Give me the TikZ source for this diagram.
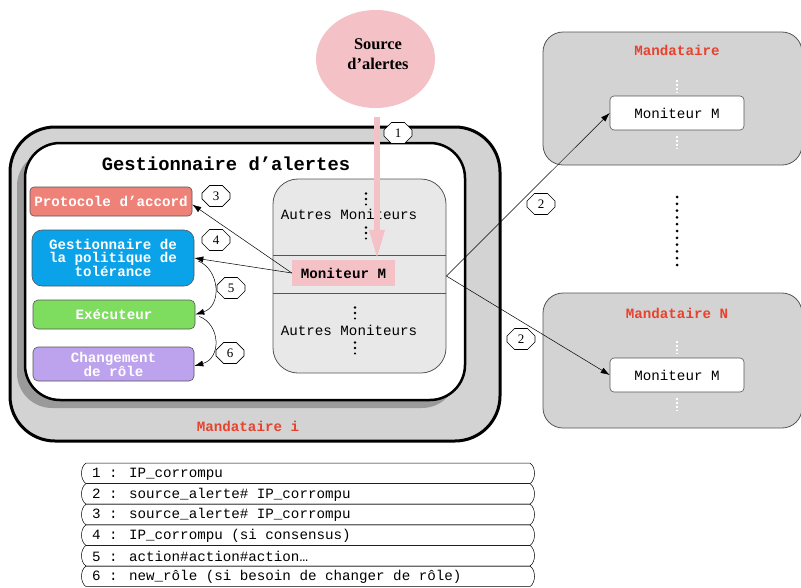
\documentclass[tikz,border=0pt]{standalone}
\usepackage{fontspec}
\setmainfont{Liberation Serif}
\newfontfamily\monof{Liberation Mono}
\usetikzlibrary{shapes.misc,shapes.geometric,arrows.meta,calc}
\definecolor{boxgray}{HTML}{D3D3D3}
\definecolor{shadowgray}{HTML}{9A9A9A}
\definecolor{contgray}{HTML}{E8E8E8}
\definecolor{pinkc}{HTML}{F4C1C6}
\definecolor{protoc}{HTML}{EE8278}
\definecolor{bluec}{HTML}{0AA2E8}
\definecolor{greenc}{HTML}{7EDC5E}
\definecolor{purplec}{HTML}{BDA2EE}
\definecolor{redt}{HTML}{E8412C}
\definecolor{edgegray}{HTML}{555555}
\begin{document}
\begin{tikzpicture}[x=1pt,y=-1pt,
  mono/.style={font=\monof\fontsize{14.2}{13}\selectfont},
  monob/.style={font=\monof\bfseries\fontsize{14.2}{13}\selectfont},
  octa/.style={chamfered rectangle, chamfered rectangle xsep=5pt, chamfered rectangle ysep=5pt,
    draw, fill=white, minimum width=28, minimum height=21, inner sep=0pt, line width=0.6pt,
    font=\fontsize{13}{13}\selectfont},
  colbox/.style={draw=edgegray, line width=0.6pt, rounded corners=5, text=white, monob, align=center, inner sep=0pt},
  conn/.style={-{Latex[length=9pt,width=6pt]}, line width=0.5pt},
  redlab/.style={monob, text=redt},
  mandbox/.style={draw=edgegray, line width=0.8pt, fill=boxgray, rounded corners=20, inner sep=0pt},
  monbox/.style={draw=edgegray, line width=0.6pt, fill=white, rounded corners=4, mono, inner sep=0pt,
    minimum width=134, minimum height=34},
  legline/.style={draw=black, line width=0.5pt}
]
\useasboundingbox (0,0) rectangle (801,587);

% Mandataire i
\node[draw, line width=3pt, rounded corners=45, fill=boxgray, minimum width=490, minimum height=314, inner sep=0pt] (mi) at (255,284) {};
\fill[shadowgray, rounded corners=35] (17,151) rectangle (457,408);
\node[draw, line width=2.5pt, rounded corners=35, fill=white, minimum width=440, minimum height=257, inner sep=0pt] (ga) at (245,271.5) {};
\node[monob, font=\monof\bfseries\fontsize{18.8}{20}\selectfont] (gatitle) at (226,164) {Gestionnaire d’alertes};
\node[redlab] (mitext) at (248,426) {Mandataire i};

% left component boxes
\node[colbox, fill=protoc, rounded corners=4, minimum width=162, minimum height=29] (proto) at (111,201.5) {Protocole d’accord};
\node[colbox, fill=bluec, rounded corners=10, minimum width=162, minimum height=56] (gest) at (113,258) {Gestionnaire de\\la politique de\\tolérance};
\node[colbox, fill=greenc, minimum width=162, minimum height=29] (exec) at (114,314.5) {Exécuteur};
\node[colbox, fill=purplec, minimum width=161, minimum height=34, font=\monof\bfseries\fontsize{14.2}{14}\selectfont] (chg) at (113.5,364) {Changement\\de rôle};

% monitors container
\node[draw=edgegray, line width=0.8pt, fill=contgray, rounded corners=25, minimum width=173, minimum height=194, inner sep=0pt] (cont) at (359.5,276) {};
\draw[edgegray, line width=0.8pt] (273,255) -- (446,255);
\draw[edgegray, line width=0.8pt] (273,293) -- (446,293);
\node[mono] (autres1) at (349,214) {Autres Moniteurs};
\node[mono] (autres2) at (349,330) {Autres Moniteurs};
\foreach \cx/\cy in {366/199, 366/233, 355/313, 355/348}{
  \fill (\cx,\cy-5.5) circle (1.4pt);
  \fill (\cx,\cy) circle (1.4pt);
  \fill (\cx,\cy+5.5) circle (1.2pt);
}
\node[monob, fill=pinkc, minimum width=103, minimum height=26, inner sep=0pt] (mm) at (343.5,273) {Moniteur M};

% internal connectors
\draw[conn] (mm.west) -- ([yshift=-3pt]proto.east);
\draw[conn] (mm.west) -- (gest.east);
\draw[conn] ([xshift=4pt,yshift=-3pt]gest.east) .. controls (220,270) and (222,306) .. (exec.east);
\draw[conn] ([xshift=4pt,yshift=-2pt]exec.east) .. controls (220,324) and (222,358) .. ([yshift=-2pt]chg.east);
\node[octa] (l3) at (216,196) {3};
\node[octa] (l4) at (216,240) {4};
\node[octa] (l5) at (231,288) {5};
\node[octa] (l6) at (230,353) {6};

% right mandataires
\node[mandbox, minimum width=259, minimum height=133] (mtop) at (672.5,98.5) {};
\node[redlab] (mtoptext) at (677,50) {Mandataire};
\node[monbox] (mr1) at (677,113) {Moniteur M};
\draw[white, line width=1.2pt, dash pattern=on 1.5pt off 2.5pt] (677,80) -- (677,93);
\draw[white, line width=1.2pt, dash pattern=on 1.5pt off 2.5pt] (677,136) -- (677,149);

\node[mandbox, minimum width=259, minimum height=135] (mbot) at (672.5,360.5) {};
\node[redlab] (mbottext) at (677,313) {Mandataire N};
\node[monbox] (mr2) at (677,375) {Moniteur M};
\draw[white, line width=1.2pt, dash pattern=on 1.5pt off 2.5pt] (677,341) -- (677,354);
\draw[white, line width=1.2pt, dash pattern=on 1.5pt off 2.5pt] (677,398) -- (677,411);

\draw[line width=3pt, line cap=round, dash pattern=on 0pt off 6.8pt] (677,197) -- (677,265);

\draw[conn] (cont.east) -- (mr1.west);
\draw[conn] (cont.east) -- (mr2.west);
\node[octa] (l2a) at (541,204) {2};
\node[octa] (l2b) at (521,339) {2};

% source of alerts
\node[ellipse, fill=pinkc, minimum width=119, minimum height=98, inner sep=0pt] (src) at (375.5,59) {};
\node[align=center, font=\bfseries\fontsize{16.4}{20}\selectfont] (srctext) at (378,54) {Source\\d’alertes};
\draw[pinkc, line width=6pt, -{Triangle[width=14pt,length=30pt]}] ([xshift=1.5pt,yshift=-9pt]src.south) -- ([xshift=1.5pt]src.south |- mm.north);
\node[octa] (l1) at (398,133) {1};

% legend
\foreach \i/\txt in {0/{1 : IP\_corrompu}, 1/{2 : source\_alerte\# IP\_corrompu}, 2/{3 : source\_alerte\# IP\_corrompu},
  3/{4 : IP\_corrompu (si consensus)}, 4/{5 : action\#action\#action…}, 5/{6 : new\_rôle (si besoin de changer de rôle)}}{
  \pgfmathsetmacro\tp{463+20.6*\i}
  \pgfmathsetmacro\bt{\tp+20.6}
  \draw[legline] (86,\tp) -- (530,\tp) .. controls (536,\tp+4) and (536,\bt-4) .. (530,\bt) -- (86,\bt) .. controls (80,\bt-4) and (80,\tp+4) .. (86,\tp) -- cycle;
  \node[mono, anchor=west, inner sep=0pt] (leg\i) at (92,\tp+10.8) {\txt};
}
\end{tikzpicture}
\end{document}
